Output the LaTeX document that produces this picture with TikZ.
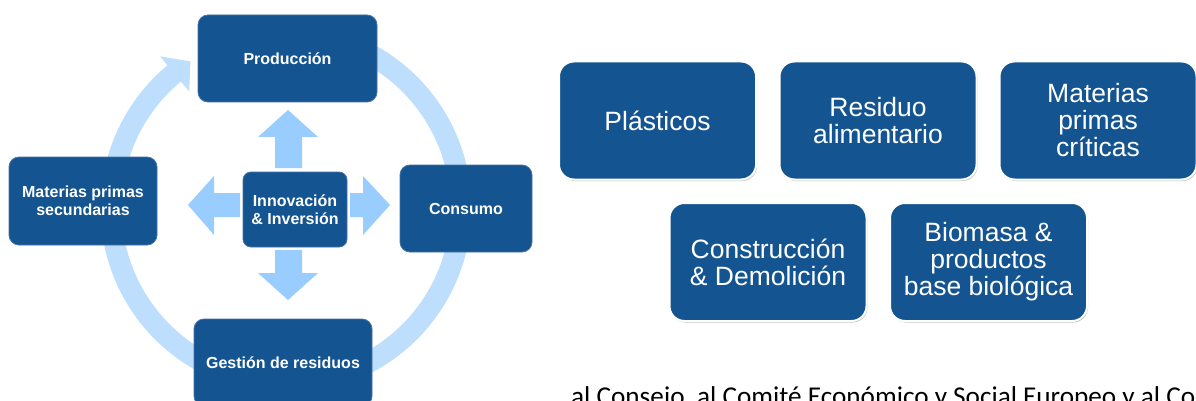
\documentclass[tikz,border=0pt]{standalone}
\usepackage{fontspec}
\setmainfont{Liberation Sans}
\newfontfamily\calibrifont{Carlito}
\usetikzlibrary{shadows}
\definecolor{boxblue}{RGB}{19,84,145}
\definecolor{boxedge}{RGB}{70,115,165}
\definecolor{ringblue}{RGB}{189,222,252}
\definecolor{arrowblue}{RGB}{153,204,255}
\begin{document}
\begin{tikzpicture}[x=1pt,y=-1pt,
  cyclebox/.style={fill=boxblue, draw=boxedge, line width=0.8pt, rounded corners=10pt,
    text=white, font=\fontsize{16}{18}\selectfont\bfseries, align=center, inner sep=0pt},
  topicbox/.style={fill=boxblue, draw=white, line width=2pt, rounded corners=15pt,
    text=white, font=\fontsize{26.5}{27}\selectfont, align=center,
    minimum width=197pt, minimum height=118pt, inner sep=0pt,
    drop shadow={shadow xshift=1pt, shadow yshift=-1.5pt, opacity=0.35, fill=black!70}},
  blockarrow/.style={fill=arrowblue, draw=none},
  ringband/.style={fill=ringblue, draw=none}]
\useasboundingbox (0,0) rectangle (1196,401);
\clip (0,0) rectangle (1196,401);
\fill[white] (0,0) rectangle (1196,401);

% circular arrow
\begin{scope}[shift={(286,208)}]
  \fill[ringband] (-100:185.5) arc[start angle=-100, end angle=230.5, radius=185.5]
    -- (230.5:164.5) arc[start angle=230.5, end angle=-100, radius=164.5] -- cycle;
  \fill[ringband] (230.3:197) -- (236.9:175) -- (230.3:151.5) -- cycle;
\end{scope}

% cycle boxes
\node[cyclebox, minimum width=179pt, minimum height=87pt] (prod) at (287.5,58.5) {Producción};
\node[cyclebox, minimum width=148pt, minimum height=88pt] (secund) at (83,201) {Materias primas\\secundarias};
\node[cyclebox, minimum width=132pt, minimum height=87pt] (cons) at (466,208.5) {Consumo};
\node[cyclebox, minimum width=178pt, minimum height=87pt] (gest) at (283,362.5) {Gestión de residuos};
\node[cyclebox, rounded corners=8pt, minimum width=104pt, minimum height=75pt] (innov) at (295,209.5) {Innovación\\\& Inversión};

% block arrows from the centre
\fill[blockarrow] (275,168) -- (275,137) -- (258,137) -- (288,110) -- (318,137) -- (302,137) -- (302,168) -- cycle;
\fill[blockarrow] (275,250) -- (275,273) -- (258,273) -- (288,300) -- (318,273) -- (302,273) -- (302,250) -- cycle;
\fill[blockarrow] (240,193) -- (214,193) -- (214,176) -- (188,205) -- (214,235) -- (214,217) -- (240,217) -- cycle;
\fill[blockarrow] (350,193) -- (363,193) -- (363,176) -- (390,205) -- (363,235) -- (363,217) -- (350,217) -- cycle;

% topic boxes
\node[topicbox] (plast) at (657.5,120.5) {Plásticos};
\node[topicbox] (resid) at (878,120.5) {Residuo\\alimentario};
\node[topicbox] (crit) at (1098,120.5) {Materias\\primas\\críticas};
\node[topicbox] (constr) at (768,262) {Construcción\\\& Demolición};
\node[topicbox] (bio) at (988.5,262) {Biomasa \&\\productos\\base biológica};

% cut-off caption
\node[anchor=base west, inner sep=0pt, font=\calibrifont\fontsize{27.2}{31}\selectfont] (cite) at (571,405)
  {al Consejo, al Comité Económico y Social Europeo y al Com};
\end{tikzpicture}
\end{document}
